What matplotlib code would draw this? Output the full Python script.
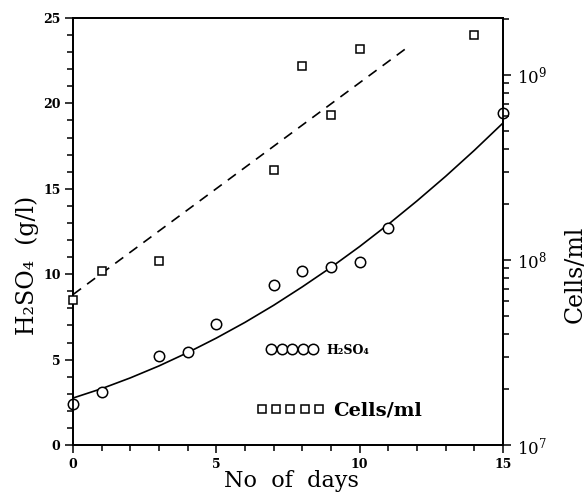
import matplotlib
matplotlib.use("Agg")
import matplotlib.pyplot as plt
from matplotlib.lines import Line2D
from matplotlib.ticker import MultipleLocator, LogLocator, NullFormatter

plt.rcParams["font.family"] = "DejaVu Serif"
plt.rcParams["mathtext.fontset"] = "dejavuserif"

# H2SO4 measurements (g/l)
acid_days = [0, 1, 3, 4, 5, 7, 8, 9, 10, 11, 15]
acid_gl = [2.4, 3.1, 5.2, 5.45, 7.1, 9.35, 10.2, 10.45, 10.7, 12.7, 19.45]

# fitted acid curve
fit_days = list(range(16))
fit_gl = [2.75, 3.30, 3.93, 4.63, 5.41, 6.26, 7.18, 8.18, 9.26, 10.40,
          11.62, 12.92, 14.29, 15.73, 17.25, 18.85]

# cell counts (cells/ml)
cell_days = [0, 1, 3, 7, 8, 9, 10, 14]
cell_count = [6.1e7, 8.7e7, 9.9e7, 3.06e8, 1.12e9, 6.04e8, 1.38e9, 1.64e9]

# dashed trend for cells (straight on the log axis)
trend_days = [0, 11.7]
trend_count = [6.5e7, 1.42e9]

fig = plt.figure(figsize=(5.85, 4.96), dpi=100)
ax = fig.add_axes([0.1248, 0.1028, 0.735, 0.861])
ax2 = ax.twinx()

ax.plot(fit_days, fit_gl, color="black", lw=1.2)
ax.plot(acid_days, acid_gl, "o", ls="none", mfc="white", mec="black",
        ms=7.5, mew=1.1, clip_on=False, zorder=5)

ax2.plot(trend_days, trend_count, color="black", lw=1.2, dashes=(6, 4.5))
ax2.plot(cell_days, cell_count, "s", ls="none", mfc="white", mec="black",
         ms=6, mew=1.1, clip_on=False, zorder=5)

ax.set_xlim(0, 15)
ax.set_ylim(0, 25)
ax2.set_yscale("log")
ax2.set_ylim(1e7, 2.03e9)

ax.xaxis.set_major_locator(MultipleLocator(5))
ax.xaxis.set_minor_locator(MultipleLocator(1))
ax.yaxis.set_major_locator(MultipleLocator(5))
ax.yaxis.set_minor_locator(MultipleLocator(1))
ax2.yaxis.set_major_locator(LogLocator(base=10))
ax2.yaxis.set_minor_locator(LogLocator(base=10, subs=range(2, 10)))
ax2.yaxis.set_minor_formatter(NullFormatter())

for a in (ax, ax2):
    for s in a.spines.values():
        s.set_linewidth(1.3)

ax.tick_params(which="both", direction="out", width=1.1, top=False, right=False)
ax.tick_params(which="major", length=6, pad=3, labelsize=9)
ax.tick_params(which="minor", length=4.5)
for lab in ax.get_xticklabels() + ax.get_yticklabels():
    lab.set_fontweight("bold")

ax2.tick_params(which="both", direction="out", width=1.1)
ax2.tick_params(which="major", length=6, pad=4, labelsize=12)
ax2.tick_params(which="minor", length=4)

ax.set_xlabel("No  of  days", fontsize=16)
ax.xaxis.set_label_coords(0.507, -0.058)
ax.set_ylabel("H₂SO₄  (g/l)", fontsize=17)
ax.yaxis.set_label_coords(-0.08, 0.42)
ax2.set_ylabel("Cells/ml", fontsize=17, rotation=90)
ax2.yaxis.set_label_coords(1.14, 0.40)

h_acid = Line2D([], [], marker="o", ls="none", mfc="white", mec="black",
                ms=7.5, mew=1.1)
h_cell = Line2D([], [], marker="s", ls="none", mfc="white", mec="black",
                ms=6, mew=1.1)

leg1 = ax2.legend([h_acid], ["H₂SO₄"], loc="center left",
                  bbox_to_anchor=(0.452, 0.222), frameon=False, numpoints=5,
                  handlelength=3.96, handletextpad=0.8, borderpad=0,
                  borderaxespad=0, prop={"size": 9, "weight": "bold"})
ax2.add_artist(leg1)
ax2.legend([h_cell], ["Cells/ml"], loc="center left",
           bbox_to_anchor=(0.426, 0.08), frameon=False, numpoints=5,
           handlelength=3.53, handletextpad=0.42, borderpad=0,
           borderaxespad=0, prop={"size": 14, "weight": "bold"})

fig.savefig("out.png", dpi=100)
